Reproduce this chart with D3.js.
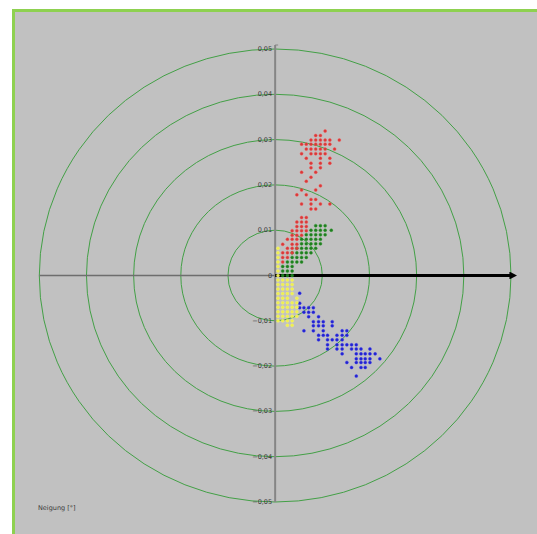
<!DOCTYPE html>
<html>
<head>
<meta charset="utf-8">
<script src="https://cdn.jsdelivr.net/npm/d3@7"></script>
<style>
  body { margin: 0; background: #fff; }
  text { font-family: "DejaVu Sans", sans-serif; }
</style>
</head>
<body>
<svg id="vis"></svg>
<script>
// ring values and tick labels
var rings = [0.01, 0.02, 0.03, 0.04, 0.05];
var tickValues = [0.05, 0.04, 0.03, 0.02, 0.01, 0, -0.01, -0.02, -0.03, -0.04, -0.05];

// points in thousandths [x, y]
var redPoints = [
  [10.6,31.9],
  [8.6,30.9],[9.6,30.9],
  [7.6,29.9],[8.6,29.9],[9.6,29.9],[10.6,29.9],[11.6,29.9],[13.6,29.9],
  [5.6,29.0],[6.6,29.0],[7.6,29.0],[8.6,29.0],[9.6,29.0],[10.6,29.0],[11.6,29.0],
  [6.6,27.9],[7.6,27.9],[8.6,27.9],[9.6,27.9],[10.6,27.9],[12.6,27.9],
  [5.6,26.9],[7.6,26.9],[8.6,26.9],[9.6,26.9],[10.6,26.9],
  [6.6,25.9],[9.6,25.9],[11.6,25.9],
  [7.6,24.8],[9.6,24.8],[11.6,24.8],
  [7.6,23.8],[9.6,23.8],
  [5.6,22.8],[8.6,22.8],
  [7.6,21.7],
  [6.6,20.8],
  [9.6,19.8],
  [5.6,18.9],[8.6,18.9],
  [4.6,17.8],[6.6,17.8],
  [7.6,16.8],[8.6,16.8],
  [5.6,15.8],[7.6,15.8],[9.6,15.8],[11.6,15.8],
  [7.6,14.7],[8.6,14.7],
  [5.6,12.8],[6.6,12.8],
  [4.6,11.8],[5.6,11.8],[6.6,11.8],
  [4.6,10.8],[5.6,10.8],[6.6,10.8],
  [3.6,9.9],[4.6,9.9],[5.6,9.9],[6.6,9.9],
  [3.6,8.9],[4.6,8.9],[5.6,8.9],
  [2.6,8.0],[3.6,8.0],[4.6,8.0],
  [1.6,6.9],[3.6,6.9],[4.6,6.9],
  [2.6,6.0],[3.6,6.0],[4.6,6.0],
  [1.6,5.0],[2.6,5.0],[3.6,5.0],
  [1.6,4.0],[2.6,4.0],
  [1.6,3.0]
];

var greenPoints = [
  [8.6,11.0],[9.6,11.0],[10.6,11.0],
  [7.6,10.0],[8.6,10.0],[9.6,10.0],[10.6,10.0],[11.9,10.0],
  [6.6,9.0],[7.6,9.0],[8.6,9.0],[9.6,9.0],[10.6,9.0],
  [5.6,8.0],[6.6,8.0],[7.6,8.0],[8.6,8.0],[9.6,8.0],
  [5.6,7.0],[6.6,7.0],[7.6,7.0],[8.6,7.0],[9.6,7.0],
  [4.6,6.0],[5.6,6.0],[6.6,6.0],[7.6,6.0],[8.6,6.0],
  [3.6,5.0],[4.6,5.0],[5.6,5.0],[6.6,5.0],[7.6,5.0],
  [3.6,4.0],[4.6,4.0],[5.6,4.0],[6.6,4.0],
  [2.6,3.0],[3.6,3.0],[4.6,3.0],[5.6,3.0],
  [1.6,2.0],[2.6,2.0],[3.6,2.0],
  [1.6,1.0],[2.6,1.0],[3.6,1.0],
  [1.6,0.0],[2.6,0.0],[3.6,0.0]
];

var yellowPoints = [
  [0.6,6],[0.6,5],[0.6,4],[0.6,3],[0.6,2],[0.6,1],[0.6,0],
  [0.6,-1],[0.6,-2],[0.6,-3],[0.6,-4],[0.6,-5],[0.6,-6],[0.6,-7],[0.6,-8],[0.6,-9],[0.6,-10],
  [1.6,-1],[1.6,-2],[1.6,-3],[1.6,-4],[1.6,-5],[1.6,-6],[1.6,-7],[1.6,-8],[1.6,-9],[1.6,-10],
  [2.6,-1],[2.6,-2],[2.6,-3],[2.6,-4],[2.6,-5],[2.6,-6],[2.6,-7],[2.6,-8],[2.6,-9],[2.6,-10],[2.6,-11],
  [3.6,-1],[3.6,-2],[3.6,-3],[3.6,-4],[3.6,-6],[3.6,-7],[3.6,-8],[3.6,-9],[3.6,-10],[3.6,-11],
  [4.6,-5],[4.6,-6],[4.6,-7],[4.6,-8],[4.6,-9]
];

var bluePoints = [
  [5.2,-3.9],
  [5.2,-6.1],
  [5.2,-7.1],[6.1,-7.1],[7.1,-7.1],[8.1,-7.1],
  [6.1,-8.1],[7.1,-8.1],[8.1,-8.1],
  [7.1,-9.1],[9.2,-9.1],
  [8.1,-10.2],[9.2,-10.2],[10.2,-10.2],[12.1,-10.2],
  [8.1,-11.1],[9.2,-11.1],[10.2,-11.1],[12.1,-11.1],
  [6.1,-12.2],[8.1,-12.2],[10.2,-12.2],[14.2,-12.2],[15.2,-12.2],
  [9.2,-13.2],[10.2,-13.2],[11.1,-13.2],[13.1,-13.2],[14.2,-13.2],[15.2,-13.2],
  [9.2,-14.2],[11.1,-14.2],[12.1,-14.2],[13.1,-14.2],[14.2,-14.2],
  [11.1,-15.3],[13.1,-15.3],[14.2,-15.3],[15.2,-15.3],[16.2,-15.3],[17.2,-15.3],
  [11.1,-16.2],[13.1,-16.2],[14.2,-16.2],[16.2,-16.2],[17.2,-16.2],[18.2,-16.2],[20.1,-16.2],
  [14.2,-17.3],[17.2,-17.3],[18.2,-17.3],[19.1,-17.3],[20.1,-17.3],[21.2,-17.3],
  [17.2,-18.4],[18.2,-18.4],[19.1,-18.4],[20.1,-18.4],[22.2,-18.4],
  [15.2,-19.2],[17.2,-19.2],[18.2,-19.2],[19.1,-19.2],[20.1,-19.2],
  [16.2,-20.3],[18.2,-20.3],[19.1,-20.3],
  [17.2,-22.2]
];

var series = [
  { name: 'green',  color: '#1f7d1f', points: greenPoints },
  { name: 'red',    color: '#d63a3a', points: redPoints },
  { name: 'blue',   color: '#2424cc', points: bluePoints },
  { name: 'yellow', color: '#eeee50', points: yellowPoints }
];

var width = 537, height = 534;

var svg = d3.select('#vis')
            .attr('width', width)
            .attr('height', height);

// gray panel with green frame
svg.append('rect')
   .attr('x', 13.5)
   .attr('y', 10.5)
   .attr('width', width)
   .attr('height', height)
   .style('fill', '#c1c1c1')
   .style('stroke', '#8ed150')
   .style('stroke-width', 3);

var xScale = d3.scaleLinear()
               .domain([-0.05, 0.05])
               .range([39.3, 511]);

var yScale = d3.scaleLinear()
               .domain([-0.05, 0.05])
               .range([502, 49]);

var cx = xScale(0), cy = yScale(0);

svg.selectAll('ellipse.ring')
   .data(rings)
   .enter()
   .append('ellipse')
   .attr('class', 'ring')
   .attr('cx', cx)
   .attr('cy', cy)
   .attr('rx', function (d) { return xScale(d) - cx; })
   .attr('ry', function (d) { return cy - yScale(d); })
   .style('fill', 'none')
   .style('stroke', '#43a046')
   .style('stroke-width', 1);

// horizontal gray axis (left half)
svg.append('line')
   .attr('x1', xScale(-0.05)).attr('x2', cx)
   .attr('y1', cy).attr('y2', cy)
   .style('stroke', '#6e6e6e')
   .style('stroke-width', 1.5);

// vertical gray axis
svg.append('line')
   .attr('x1', cx).attr('x2', cx)
   .attr('y1', yScale(0.05) - 4).attr('y2', yScale(-0.05))
   .style('stroke', '#858585')
   .style('stroke-width', 2);

svg.append('line')
   .attr('x1', cx).attr('x2', cx + 3)
   .attr('y1', yScale(0.05) - 4).attr('y2', yScale(0.05) - 4)
   .style('stroke', '#858585')
   .style('stroke-width', 1);

// black arrow to the right
svg.append('defs').append('marker')
   .attr('id', 'head')
   .attr('viewBox', '0 0 10 10')
   .attr('refX', 2).attr('refY', 5)
   .attr('markerWidth', 2.6).attr('markerHeight', 2.6)
   .attr('orient', 'auto')
   .append('path')
   .attr('d', 'M0,0L10,5L0,10Z')
   .style('fill', '#000');

svg.append('line')
   .attr('x1', cx).attr('x2', 511)
   .attr('y1', cy).attr('y2', cy)
   .attr('marker-end', 'url(#head)')
   .style('stroke', '#000')
   .style('stroke-width', 3);

svg.selectAll('text.tick')
   .data(tickValues)
   .enter()
   .append('text')
   .attr('class', 'tick')
   .attr('x', cx - 3)
   .attr('y', function (d) { return yScale(d) + 2; })
   .attr('text-anchor', 'end')
   .style('font-size', '6.5px')
   .style('fill', '#3a3a3a')
   .text(function (d) { return d === 0 ? '0' : d3.format('.2f')(d).replace('.', ','); });

// points
series.forEach(function (s) {
  svg.append('g')
     .attr('class', s.name)
     .selectAll('circle')
     .data(s.points)
     .enter()
     .append('circle')
     .attr('cx', function (d) { return xScale(d[0] / 1000); })
     .attr('cy', function (d) { return yScale(d[1] / 1000); })
     .attr('r', 1.5)
     .style('fill', s.color)
     .style('stroke', d3.color(s.color).brighter(0.6))
     .style('stroke-width', 0.4);
});

svg.append('text')
   .attr('x', 38)
   .attr('y', 510)
   .style('font-size', '6.5px')
   .style('fill', '#3a3a3a')
   .text('Neigung [°]');
</script>
</body>
</html>
